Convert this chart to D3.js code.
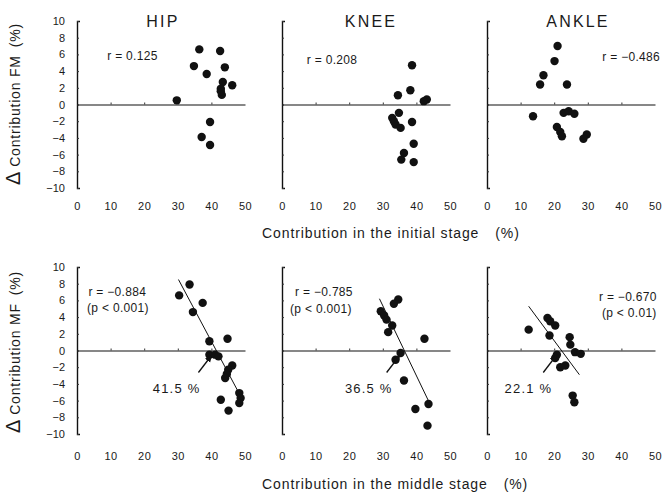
<!DOCTYPE html>
<html><head><meta charset="utf-8">
<script src="https://cdn.jsdelivr.net/npm/d3@7"></script>
<style>
body{margin:0;background:#fff}
svg{display:block}
text{font-family:"Liberation Sans",Arial,sans-serif;fill:#1a1a1a}
</style>
</head><body>
<svg id="c" width="667" height="495"></svg>
<script>
// ---- data ----
const joints = ["HIP", "KNEE", "ANKLE"];
const xTicks = [0, 10, 20, 30, 40, 50];
const yTicks = [10, 8, 6, 4, 2, 0, -2, -4, -6, -8, -10];

const hipInitX = [29.7, 36.4, 42.6, 34.8, 38.6, 44.0, 43.4, 46.2, 42.8, 43.1, 42.8, 39.6, 37.1, 39.6];
const hipInitY = [0.5, 6.6, 6.4, 4.6, 3.65, 4.45, 2.7, 2.3, 1.9, 1.15, 1.6, -2.1, -3.9, -4.85];
const kneeInitX = [38.7, 38.2, 34.5, 43.1, 42.2, 34.8, 32.8, 33.8, 35.3, 38.7, 39.2, 36.3, 35.5, 39.2, 33.3];
const kneeInitY = [4.7, 1.7, 1.1, 0.6, 0.4, -1.0, -1.6, -2.4, -2.8, -2.1, -4.7, -5.8, -6.6, -6.9, -2.0];
const ankleInitX = [21.0, 20.1, 16.8, 15.8, 23.8, 13.7, 22.8, 24.3, 26.0, 20.8, 21.8, 22.3, 29.7, 28.7];
const ankleInitY = [7.0, 5.2, 3.5, 2.4, 2.4, -1.4, -1.0, -0.8, -1.1, -2.7, -3.3, -3.8, -3.6, -4.1];

const hipMidX = [33.5, 30.4, 37.4, 34.5, 39.4, 44.8, 39.4, 41.1, 42.1, 46.2, 45.0, 44.6, 44.1, 48.3, 48.7, 48.3, 42.8, 45.1];
const hipMidY = [7.9, 6.6, 5.7, 4.6, 1.1, 1.4, -0.5, -0.5, -0.7, -1.8, -2.3, -2.8, -3.3, -5.1, -5.7, -6.3, -5.9, -7.2];
const kneeMidX = [34.6, 33.3, 29.4, 30.4, 31.1, 32.8, 31.6, 42.4, 35.3, 33.8, 36.3, 43.6, 39.7, 43.3];
const kneeMidY = [6.1, 5.6, 4.7, 4.2, 3.7, 3.0, 2.2, 1.4, -0.3, -1.1, -3.6, -6.4, -7.0, -9.0];
const ankleMidX = [12.4, 18.0, 18.8, 20.3, 18.6, 24.6, 24.8, 26.2, 27.9, 20.8, 20.3, 21.8, 23.3, 25.5, 26.0];
const ankleMidY = [2.5, 3.9, 3.5, 3.0, 1.8, 1.6, 0.7, -0.2, -0.4, -0.5, -0.9, -2.0, -1.8, -5.4, -6.2];

// regression lines (middle stage): endpoints
const fitX = [[30.2, 49.0], [29.0, 43.8], [12.4, 27.5]];
const fitY = [[8.5, -5.7], [6.2, -6.2], [5.3, -2.9]];
const crossing = [41.5, 36.5, 22.1];
const crossingLabels = ["41.5 %", "36.5 %", "22.1 %"];

const rInit = ["r = 0.125", "r = 0.208", "r = \u22120.486"];
const rMid = ["r = \u22120.884", "r = \u22120.785", "r = \u22120.670"];
const pMid = ["(p < 0.001)", "(p < 0.001)", "(p < 0.01)"];

const xTitles = ["Contribution in the initial stage", "Contribution in the middle stage"];
const yTitles = ["Contribution FM", "Contribution MF"];

const initX = [hipInitX, kneeInitX, ankleInitX], initY = [hipInitY, kneeInitY, ankleInitY];
const midX = [hipMidX, kneeMidX, ankleMidX], midY = [hipMidY, kneeMidY, ankleMidY];

// ---- layout ----
const svg = d3.select("#c");
const panelLeft = [77, 282, 487], panelW = 168;
const rowRange = [[188, 21], [434, 267]];
const xLabelY = [202, 452];

svg.append("defs").append("marker")
  .attr("id", "arr").attr("viewBox", "0 0 10 10").attr("refX", 8).attr("refY", 5)
  .attr("markerWidth", 8).attr("markerHeight", 8).attr("markerUnits", "userSpaceOnUse").attr("orient", "auto")
  .append("path").attr("d", "M0,1 L10,5 L0,9 z").attr("fill", "#111");

for (let row = 0; row < 2; row++) {
  const y = d3.scaleLinear().domain([-10, 10]).range(rowRange[row]);
  for (let c = 0; c < 3; c++) {
    const x = d3.scaleLinear().domain([0, 50]).range([panelLeft[c], panelLeft[c] + panelW]);
    const g = svg.append("g");

    // y axis
    const ya = g.append("g").attr("transform", `translate(${x(0)},0)`)
      .call(d3.axisRight(y).tickValues(yTicks).tickSize(2).tickSizeOuter(3).tickFormat(""));
    ya.select(".domain").attr("stroke", "#111").attr("stroke-width", 1.4);
    ya.selectAll(".tick line").attr("stroke", "#333");

    if (c === 0) {
      const yl = g.append("g").attr("transform", `translate(${x(0)},0)`)
        .call(d3.axisLeft(y).tickValues(yTicks).tickSize(0).tickPadding(12));
      yl.select(".domain").remove();
      yl.selectAll("text").attr("font-size", 11).attr("font-family", "Liberation Sans, Arial, sans-serif").attr("fill", "#1a1a1a");
    }

    // zero line
    const za = g.append("g").attr("transform", `translate(0,${y(0)})`)
      .call(d3.axisTop(x).tickValues([10, 20, 30, 40]).tickSize(2).tickSizeOuter(0).tickFormat(""));
    za.select(".domain").attr("stroke", "#111").attr("stroke-width", 1.1);
    za.selectAll(".tick line").attr("stroke", "#333");

    // x tick labels
    const xl = g.append("g").attr("transform", `translate(0,${xLabelY[row]})`)
      .call(d3.axisBottom(x).tickValues(xTicks).tickSize(0).tickPadding(0));
    xl.select(".domain").remove();
    xl.selectAll("text").attr("font-size", 11).attr("font-family", "Liberation Sans, Arial, sans-serif").attr("fill", "#1a1a1a").attr("letter-spacing", 0.5);

    // points
    const xs = row === 0 ? initX[c] : midX[c];
    const ys = row === 0 ? initY[c] : midY[c];
    g.append("g").selectAll("circle").data(d3.range(xs.length)).join("circle")
      .attr("cx", i => x(xs[i])).attr("cy", i => y(ys[i])).attr("r", 4.2).attr("fill", "#111");

    if (row === 0) {
      const t = g.append("text").attr("font-size", 12).attr("letter-spacing", 0.3).attr("dy", "0.35em").text(rInit[c]);
      if (c === 0) t.attr("x", x(9)).attr("y", y(5.8));
      if (c === 1) t.attr("x", x(7.4)).attr("y", y(5.4));
      if (c === 2) t.attr("x", x(51.5)).attr("y", y(5.7)).attr("text-anchor", "end");
    } else {
      // regression line
      g.append("line")
        .attr("x1", x(fitX[c][0])).attr("y1", y(fitY[c][0]))
        .attr("x2", x(fitX[c][1])).attr("y2", y(fitY[c][1]))
        .attr("stroke", "#111").attr("stroke-width", 1);
      // arrow to crossing
      const cx = x(crossing[c]), cy = y(0);
      g.append("line")
        .attr("x1", cx - 18).attr("y1", cy + 22)
        .attr("x2", cx - 5).attr("y2", cy + 5)
        .attr("stroke", "#111").attr("stroke-width", 1.3).attr("marker-end", "url(#arr)");
      const ldx = [-16, -12, -9][c];
      g.append("text").attr("x", cx + ldx).attr("y", cy + 38).attr("dy", "0.35em")
        .attr("text-anchor", "end").attr("font-size", 13).attr("letter-spacing", 1.2)
        .text(crossingLabels[c]);
      // r and p
      const rt = g.append("text").attr("font-size", 12).attr("letter-spacing", 0.3).attr("dy", "0.35em").text(rMid[c]);
      const pt = g.append("text").attr("font-size", 12).attr("letter-spacing", 0.3).attr("dy", "0.35em").text(pMid[c]);
      if (c === 0) { rt.attr("x", x(3.4)).attr("y", 292); pt.attr("x", x(3.0)).attr("y", 308); }
      if (c === 1) { rt.attr("x", x(3.9)).attr("y", 292); pt.attr("x", x(2.4)).attr("y", 309); }
      if (c === 2) {
        rt.attr("x", x(50.5)).attr("y", 297).attr("text-anchor", "end");
        pt.attr("x", x(50.5)).attr("y", 313).attr("text-anchor", "end");
      }
    }

    if (row === 0) {
      g.append("text").attr("x", x(25) + [2, 5, 7][c]).attr("y", 21).attr("dy", "0.35em")
        .attr("text-anchor", "middle").attr("font-size", 16).attr("letter-spacing", 2.2)
        .attr("fill", "#222").text(joints[c]);
    }
  }

  // x axis title
  const xt = svg.append("text").attr("x", 262).attr("y", row === 0 ? 233 : 484).attr("dy", "0.35em")
    .attr("font-size", 14).attr("letter-spacing", 0.9);
  xt.append("tspan").text(xTitles[row]);
  xt.append("tspan").attr("dx", 16).text("(%)");

  // y axis title
  const cyT = row === 0 ? 104 : 352;
  const yt = svg.append("text").attr("transform", `translate(15,${cyT}) rotate(-90)`)
    .attr("text-anchor", "middle").attr("dy", "0.35em").attr("font-size", 14).attr("letter-spacing", 0.8);
  yt.append("tspan").attr("font-size", 20).text("\u0394");
  yt.append("tspan").attr("dx", 4).text(yTitles[row]);
  yt.append("tspan").attr("dx", 8).text("(%)");
}
</script>
</body></html>
